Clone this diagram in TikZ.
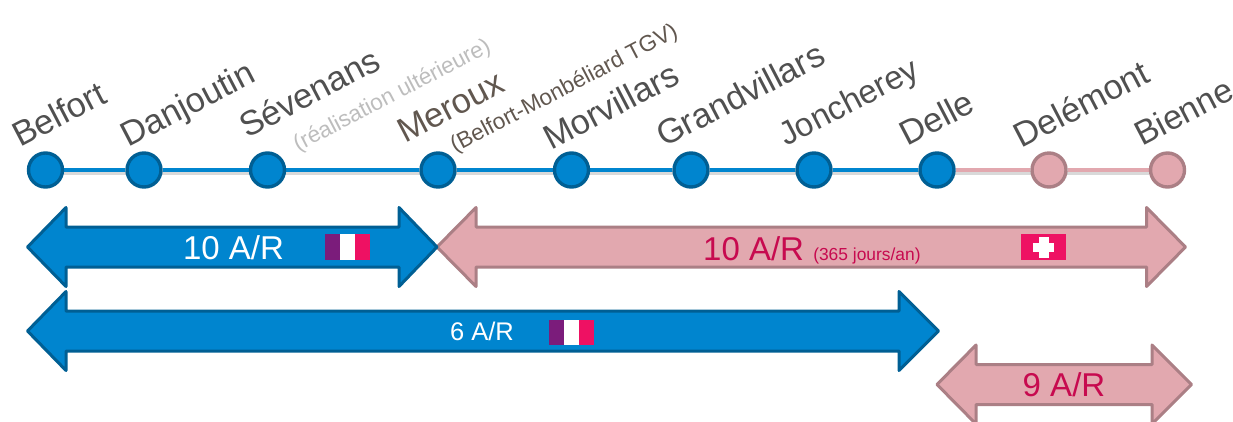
\documentclass[tikz,border=0pt]{standalone}
\usepackage{fontspec}
\setmainfont{Liberation Sans}
\usetikzlibrary{backgrounds}
\definecolor{blueF}{HTML}{0085CF}
\definecolor{blueD}{HTML}{005F94}
\definecolor{pinkF}{HTML}{E2A8AF}
\definecolor{pinkD}{HTML}{AB7F85}
\definecolor{grayT}{HTML}{505050}
\definecolor{brownT}{HTML}{61574F}
\definecolor{lightT}{HTML}{BDBDBD}
\definecolor{roseT}{HTML}{C70A4F}
\definecolor{flagP}{HTML}{7B1C7B}
\definecolor{flagM}{HTML}{EE1163}
\newcommand{\fs}[1]{\fontsize{#1}{#1}\selectfont}
% left tip, left base, right base, right tip, y centre
\newcommand{\dblarrow}[6]{%
  \draw[#1] (#2,#6) -- (#3,#6-39.5) -- (#3,#6-20) -- (#4,#6-20) -- (#4,#6-39.5)
    -- (#5,#6) -- (#4,#6+39.5) -- (#4,#6+20) -- (#3,#6+20) -- (#3,#6+39.5) -- cycle;}
\newcommand{\frflag}[2]{%
  \fill[flagP] (#1,#2) rectangle +(15,25.5);
  \fill[white] (#1+15,#2) rectangle +(15,25.5);
  \fill[flagM] (#1+30,#2) rectangle +(15,25.5);}
\tikzset{
  x=1pt,y=-1pt,
  stop/.style={circle,minimum size=34pt,inner sep=0pt,line width=3.4pt},
  bluestop/.style={stop,draw=blueD,fill=blueF},
  pinkstop/.style={stop,draw=pinkD,fill=pinkF},
  name label/.style={anchor=base west,rotate=27.5,inner sep=0pt,text=grayT,font=\fs{34.5}},
  sub label/.style={anchor=base west,rotate=27.5,inner sep=0pt,font=\fs{22.6}},
  bluearrow/.style={draw=blueD,fill=blueF,line width=3pt,line join=round},
  pinkarrow/.style={draw=pinkD,fill=pinkF,line width=3pt,line join=round},
  shadowline/.style={line width=4pt,draw=black!15},
  blueline/.style={line width=4pt,draw=blueF},
  pinkline/.style={line width=4pt,draw=pinkF},
}
\begin{document}
\begin{tikzpicture}
\useasboundingbox (0,0) rectangle (1233,421);
\clip (0,0) rectangle (1233,421);
% stops
\node[bluestop] (s1) at (45.5,170) {};
\node[bluestop] (s2) at (144,170) {};
\node[bluestop] (s3) at (267.5,170) {};
\node[bluestop] (s4) at (438,170) {};
\node[bluestop] (s5) at (571.5,170) {};
\node[bluestop] (s6) at (691,170) {};
\node[bluestop] (s7) at (814,170) {};
\node[bluestop] (s8) at (937,170) {};
\node[pinkstop] (s9) at (1049,170) {};
\node[pinkstop] (s10) at (1167.5,170) {};
% connectors
\begin{scope}[on background layer]
  \draw[shadowline,transform canvas={yshift=-3pt}] (s1) -- (s10);
  \draw[blueline] (s1) -- (s2);
  \draw[blueline] (s2) -- (s3);
  \draw[blueline] (s3) -- (s4);
  \draw[blueline] (s4) -- (s5);
  \draw[blueline] (s5) -- (s6);
  \draw[blueline] (s6) -- (s7);
  \draw[blueline] (s7) -- (s8);
  \draw[pinkline] (s8) -- (s9);
  \draw[pinkline] (s9) -- (s10);
\end{scope}
% names
\node[name label] (n1) at (20,148) {Belfort};
\node[name label] (n2) at (128,148) {Danjoutin};
\node[name label] (n3) at (247,139) {Sévenans};
\node[sub label,text=lightT] (n3b) at (298,152) {(réalisation ultérieure)};
\node[name label,text=brownT] (n4) at (405,144) {Meroux};
\node[sub label,text=brownT] (n4b) at (455,153) {(Belfort-Monbéliard TGV)};
\node[name label] (n5) at (551,151) {Morvillars};
\node[name label] (n6) at (664,148) {Grandvillars};
\node[name label,font=\fs{33}] (n7) at (786,147) {Joncherey};
\node[name label] (n8) at (907,147) {Delle};
\node[name label] (n9) at (1021,149) {Delémont};
\node[name label,font=\fs{34}] (n10) at (1142,147) {Bienne};
% arrows
\dblarrow{pinkarrow}{437}{476}{1146.5}{1185.5}{247}
\dblarrow{bluearrow}{27.5}{66}{399}{437}{247}
\dblarrow{bluearrow}{27.5}{66}{899}{938.5}{331}
\dblarrow{pinkarrow}{937}{976}{1152}{1191.5}{384.5}
% arrow labels
\node[inner sep=0pt,text=white,font=\fs{33}] (l1) at (233.5,247.5) {10 A/R};
\node[inner sep=0pt,text=roseT,anchor=base west] (l2) at (703,260) {\fs{33}10 A/R \fs{17.4}(365 jours/an)};
\node[inner sep=0pt,text=white,font=\fs{25.5}] (l3) at (482,331.5) {6 A/R};
\node[inner sep=0pt,text=roseT,font=\fs{33}] (l4) at (1064,384.5) {9 A/R};
% flags
\frflag{325}{234}
\frflag{549}{319.5}
\fill[flagM] (1020.5,234) rectangle (1066,260);
\fill[white] (1038.5,236.5) rectangle (1048.5,257.5);
\fill[white] (1032.5,242.5) rectangle (1054,251.5);
\end{tikzpicture}
\end{document}
